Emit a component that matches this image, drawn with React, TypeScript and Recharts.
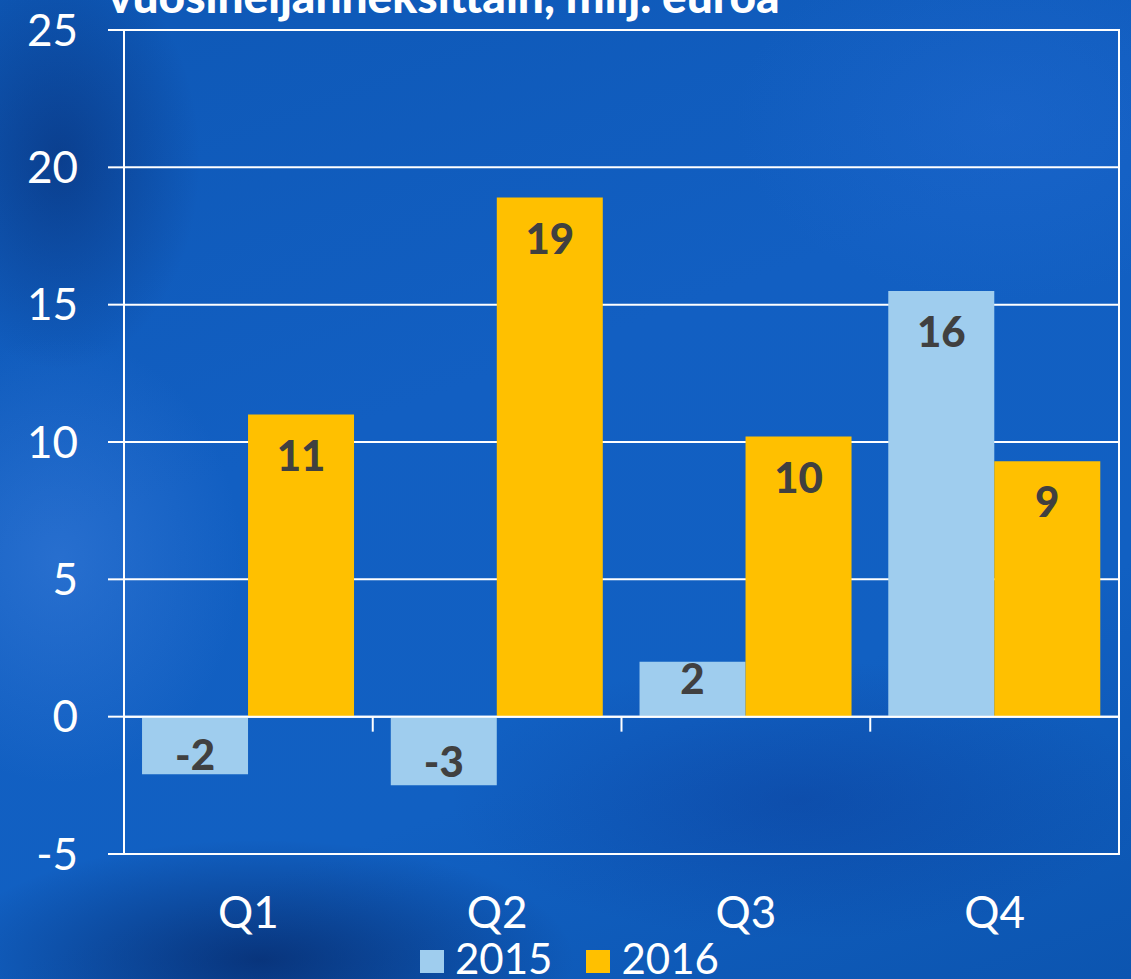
import React from 'react';
import {
  BarChart,
  Bar,
  XAxis,
  YAxis,
  CartesianGrid,
  ReferenceLine,
  ReferenceArea,
  LabelList,
} from 'recharts';

const quarters = ['Q1', 'Q2', 'Q3', 'Q4'];
const values2015 = [-2.1, -2.5, 2.0, 15.5];
const values2016 = [11.0, 18.9, 10.2, 9.3];
const yTicks = [-5, 0, 5, 10, 15, 20, 25];

const SERIES = [
  { key: 'y2015', name: '2015', color: '#9fcdee' },
  { key: 'y2016', name: '2016', color: '#ffc000' },
];

const data = quarters.map((q, i) => ({
  quarter: q,
  y2015: values2015[i],
  y2016: values2016[i],
}));

const FONT = 'Lato, "Open Sans", sans-serif';

// Excel-style rounding of the shown value (-2.5 -> -3)
const roundLabel = (v: number) => Math.sign(v) * Math.round(Math.abs(v));

const renderLabel = (props: any) => {
  const { x, y, width, height, value } = props;
  const top = Math.min(y, y + height);
  const h = Math.abs(height);
  const bottom = top + h;
  let cy: number;
  if (value >= 0) {
    cy = top + Math.min(40, h * 0.3);
  } else {
    cy = bottom - Math.min(40, h * 0.35);
  }
  return (
    <text
      x={x + width / 2}
      y={cy}
      textAnchor="middle"
      dominantBaseline="central"
      fill="#404040"
      fontFamily={FONT}
      fontWeight={900}
      fontSize={42}
    >
      {roundLabel(value)}
    </text>
  );
};

// zero line with small tick marks at the category boundaries
const ZeroLine = (props: any) => {
  const { x1, x2, y1 } = props;
  const step = (x2 - x1) / quarters.length;
  return (
    <g>
      <line x1={x1} x2={x2} y1={y1} y2={y1} stroke="#fff" strokeWidth={2} />
      {quarters.slice(1).map((q, i) => (
        <line
          key={q}
          x1={x1 + step * (i + 1)}
          x2={x1 + step * (i + 1)}
          y1={y1}
          y2={y1 + 15}
          stroke="#fff"
          strokeWidth={2}
        />
      ))}
    </g>
  );
};

const background = [
  'radial-gradient(ellipse 200px 300px at 60px 160px, rgba(5,30,90,0.45), rgba(5,30,90,0) 70%)',
  'radial-gradient(ellipse 420px 160px at 260px 960px, rgba(3,25,80,0.6), rgba(3,25,80,0) 75%)',
  'radial-gradient(ellipse 260px 320px at 60px 560px, rgba(80,140,230,0.35), rgba(80,140,230,0) 70%)',
  'radial-gradient(ellipse 380px 260px at 1000px 120px, rgba(40,110,215,0.3), rgba(40,110,215,0) 70%)',
  'radial-gradient(ellipse 500px 200px at 800px 800px, rgba(10,50,140,0.35), rgba(10,50,140,0) 70%)',
  'linear-gradient(160deg, #0e58b6 0%, #125fc2 40%, #1160c2 70%, #0c55b0 100%)',
].join(', ');

export default function App() {
  return (
    <div
      style={{
        position: 'fixed',
        top: 0,
        left: 0,
        width: 1131,
        height: 979,
        overflow: 'hidden',
        background,
        fontFamily: FONT,
      }}
    >
      <svg width={1131} height={40} style={{ position: 'absolute', top: 0, left: 0 }}>
        <text x={108} y={13} fill="#fff" fontFamily={FONT} fontWeight={900} fontSize={46}>
          vuosineljänneksittäin, milj. euroa
        </text>
      </svg>
      <BarChart
        width={1131}
        height={979}
        data={data}
        margin={{ top: 30, right: 12, bottom: 65, left: 0 }}
        barCategoryGap="7.25%"
        barGap={0}
      >
        <CartesianGrid horizontal vertical={false} stroke="#fff" strokeWidth={2} />
        <ReferenceArea y1={-5} y2={25} fill="none" stroke="#fff" strokeWidth={2} />
        <XAxis
          dataKey="quarter"
          axisLine={false}
          tickLine={false}
          tickSize={0}
          tickMargin={43}
          height={60}
          tick={{ fill: '#fff', fontSize: 44, fontFamily: FONT }}
        />
        <YAxis
          domain={[-5, 25]}
          ticks={yTicks}
          interval={0}
          width={124}
          tickSize={16}
          tickMargin={30}
          axisLine={{ stroke: '#fff', strokeWidth: 2 }}
          tickLine={{ stroke: '#fff', strokeWidth: 2 }}
          tick={{ fill: '#fff', fontSize: 44, fontFamily: FONT }}
        />
        <ReferenceLine y={0} shape={<ZeroLine />} />
        {SERIES.map((s) => (
          <Bar key={s.key} dataKey={s.key} name={s.name} fill={s.color} isAnimationActive={false}>
            <LabelList dataKey={s.key} content={renderLabel} />
          </Bar>
        ))}
      </BarChart>
      <div
        style={{
          position: 'absolute',
          left: 420,
          top: 937,
          display: 'flex',
          alignItems: 'center',
          color: '#fff',
          fontSize: 42,
          lineHeight: '42px',
        }}
      >
        {SERIES.map((s) => (
          <div key={s.key} style={{ display: 'flex', alignItems: 'center', marginRight: 34 }}>
            <span
              style={{ width: 24, height: 23, background: s.color, display: 'inline-block', marginRight: 11, marginTop: 6 }}
            />
            <span>{s.name}</span>
          </div>
        ))}
      </div>
    </div>
  );
}
